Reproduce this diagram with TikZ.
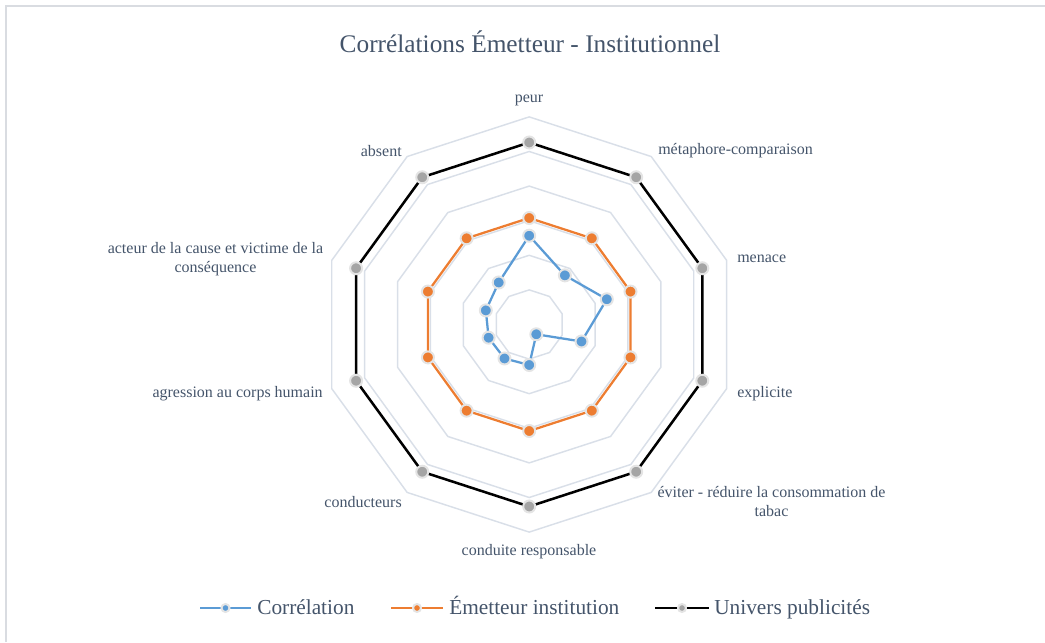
\documentclass[tikz,border=0pt]{standalone}
\usepackage{fontspec}
\setmainfont{Liberation Serif}
\usetikzlibrary{calc}
\definecolor{txt}{HTML}{44546A}
\definecolor{gridc}{HTML}{D9DFE8}
\definecolor{framec}{HTML}{D9DCE1}
\definecolor{ringc}{HTML}{E4E4E4}
\definecolor{corr}{HTML}{5B9BD5}
\definecolor{emet}{HTML}{ED7D31}
\definecolor{univ}{HTML}{A5A5A5}
\begin{document}
\begin{tikzpicture}[x=0.75pt,y=0.75pt,
    lbl/.style={text=txt,inner sep=0pt,font=\fontsize{12}{14.25}\selectfont},
    leg/.style={text=txt,inner sep=0pt,font=\fontsize{16}{19}\selectfont},
    gridline/.style={draw=gridc,line width=1.1pt},
    serie/.style={draw=#1,line width=1.7pt,line join=round},
    dot/.style={circle,fill=#1,draw=ringc,line width=1.5pt,inner sep=0pt,minimum size=9pt},
    legdot/.style={circle,fill=#1,draw=ringc,line width=1.5pt,inner sep=0pt,minimum size=6pt}]
\useasboundingbox (0,0) rectangle (1045,642);

% Frame
\draw[framec,line width=1.1pt] (6,0) -- (6,636) -- (1045,636);

% Title
\node[text=txt,font=\fontsize{19}{23}\selectfont] (titre) at (530,600) {Corrélations Émetteur - Institutionnel};

\begin{scope}[shift={(529.2,317.5)}]
% Grid
\foreach \k in {1,...,6}
    \draw[gridline] (90:34.6*\k) \foreach \a in {54,18,...,-234} { -- (\a:34.6*\k)} -- cycle;

% Corrélation
\foreach \a/\v [count=\i] in {90/88.8,54/60.7,18/81.6,-18/55.0,-54/12.1,-90/40.5,-126/42.0,-162/42.7,-198/45.6,-234/51.9}
    \coordinate (b\i) at (\a:\v);
\draw[serie=corr] (b1) \foreach \i in {2,...,10} { -- (b\i)} -- cycle;
\foreach \i in {1,...,10}
    \node[dot=corr] (bd\i) at (b\i) {};

% Emetteur institution
\foreach \a [count=\i] in {90,54,...,-234}
    \coordinate (o\i) at (\a:106.5);
\draw[serie=emet] (o1) \foreach \i in {2,...,10} { -- (o\i)} -- cycle;
\foreach \i in {1,...,10}
    \node[dot=emet] (od\i) at (o\i) {};

% Univers publicites
\foreach \a [count=\i] in {90,54,...,-234}
    \coordinate (g\i) at (\a:182);
\draw[serie=black,line width=1.9pt] (g1) \foreach \i in {2,...,10} { -- (g\i)} -- cycle;
\foreach \i in {1,...,10}
    \node[dot=univ] (gd\i) at (g\i) {};
\end{scope}

% Labels
\node[lbl] (peur) at (529,542) {peur};
\node[lbl,anchor=west] (metaphore) at (658,491) {métaphore-comparaison};
\node[lbl,anchor=west] (menace) at (737,383) {menace};
\node[lbl,anchor=west] (explicite) at (737,248) {explicite};
\node[lbl,align=center] (eviter) at (771.5,140) {éviter - réduire la consommation de\\tabac};
\node[lbl] (conduite) at (529,90) {conduite responsable};
\node[lbl,anchor=east] (conducteurs) at (402,140) {conducteurs};
\node[lbl,anchor=east] (agression) at (323,248) {agression au corps humain};
\node[lbl,align=center] (acteur) at (215.5,383) {acteur de la cause et victime de la\\conséquence};
\node[lbl,anchor=east] (absent) at (402,491) {absent};

% Legend
\coordinate (l1a) at (200,34); \coordinate (l1b) at (251,34);
\coordinate (l2a) at (391,34); \coordinate (l2b) at (443,34);
\coordinate (l3a) at (655,34); \coordinate (l3b) at (709,34);
\draw[serie=corr] (l1a) -- (l1b);
\draw[serie=emet] (l2a) -- (l2b);
\draw[serie=black,line width=1.9pt] (l3a) -- (l3b);
\node[legdot=corr] (m1) at ($(l1a)!0.5!(l1b)$) {};
\node[legdot=emet] (m2) at ($(l2a)!0.5!(l2b)$) {};
\node[legdot=univ] (m3) at ($(l3a)!0.5!(l3b)$) {};
\node[leg,anchor=base west] (leg1) at (257,27) {Corrélation};
\node[leg,anchor=base west] (leg2) at (449,27) {Émetteur institution};
\node[leg,anchor=base west] (leg3) at (714,27) {Univers publicités};

\end{tikzpicture}
\end{document}
